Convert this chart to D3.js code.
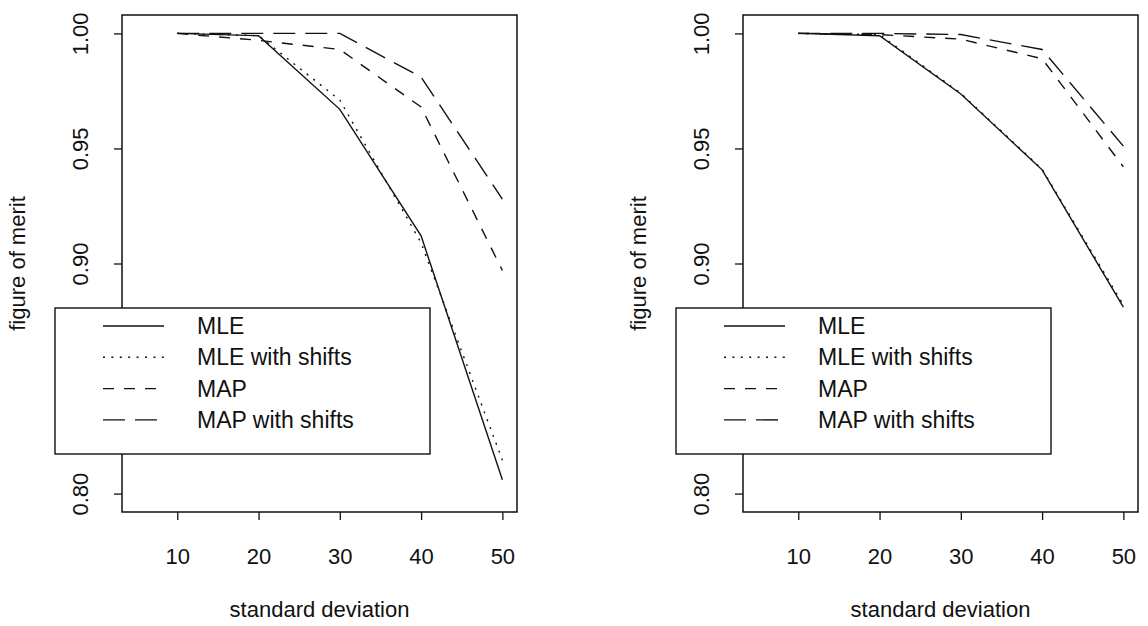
<!DOCTYPE html>
<html>
<head>
<meta charset="utf-8">
<script src="https://cdn.jsdelivr.net/npm/d3@7"></script>
<style>
  body { margin: 0; background: #fff; }
  svg text { font-family: "Liberation Sans", Arial, Helvetica, sans-serif; fill: #111; }
</style>
</head>
<body>
<div id="wrapper"></div>
<script>
// Dados
const sd = [10, 20, 30, 40, 50];
const seriesNames = ["MLE", "MLE with shifts", "MAP", "MAP with shifts"];
const xTicks = [10, 20, 30, 40, 50];
const yTicks = [0.80, 0.85, 0.90, 0.95, 1.00];

// painel da esquerda
const leftMLE       = [1.000, 0.999, 0.967, 0.912, 0.806];
const leftMLEShift  = [1.000, 0.999, 0.971, 0.909, 0.8145];
const leftMAP       = [1.000, 0.997, 0.993, 0.968, 0.897];
const leftMAPShift  = [1.000, 1.000, 1.000, 0.981, 0.928];

// painel da direita
const rightMLE      = [1.000, 0.999, 0.9737, 0.9407, 0.881];
const rightMLEShift = [1.000, 0.9995, 0.974, 0.941, 0.882];
const rightMAP      = [1.000, 0.9995, 0.9975, 0.989, 0.942];
const rightMAPShift = [1.000, 1.000, 0.9995, 0.993, 0.951];

// estilo de cada serie (tipo de linha do R)
const dashes = ["none", "2,6.4", "11,10", "22,10"];

function draw() {
  const dimensions = {
    width: 1148,
    height: 626,
    boxWidth: 395,
    top: 15,
    bottom: 512
  };
  const panelLeft = [122, 743];
  const panels = [
    [leftMLE, leftMLEShift, leftMAP, leftMAPShift],
    [rightMLE, rightMLEShift, rightMAP, rightMAPShift]
  ];

  const svg = d3.select("#wrapper")
    .append("svg")
      .attr("width", dimensions.width)
      .attr("height", dimensions.height);

  panels.forEach((series, p) => {
    const L = panelLeft[p];
    const xScale = d3.scaleLinear().domain([3.2, 51.8]).range([L, L + dimensions.boxWidth]);
    const yScale = d3.scaleLinear().domain([0.792, 1.008]).range([dimensions.bottom, dimensions.top]);

    const g = svg.append("g");

    // linhas de dados
    const line = d3.line()
      .x((d, i) => xScale(sd[i]))
      .y(d => yScale(d));
    series.forEach((values, s) => {
      g.append("path")
        .attr("d", line(values))
        .attr("fill", "none")
        .attr("stroke", "#111")
        .attr("stroke-width", 1.4)
        .attr("stroke-dasharray", dashes[s]);
    });

    // eixo x
    const xAxis = g.append("g")
      .attr("transform", "translate(0," + dimensions.bottom + ")")
      .call(d3.axisBottom(xScale).tickValues(xTicks).tickSize(8).tickFormat(d3.format("d")));
    xAxis.select(".domain").remove();
    xAxis.selectAll("line").attr("stroke", "#111").attr("stroke-width", 1.3);
    xAxis.selectAll("text")
      .attr("y", 52)
      .attr("dy", 0)
      .style("font-size", "22px")
      .attr("fill", "#111");

    // eixo y (rotulos girados como no R)
    const yAxis = g.append("g")
      .attr("transform", "translate(" + L + ",0)")
      .call(d3.axisLeft(yScale).tickValues(yTicks).tickSize(8).tickFormat(d3.format(".2f")));
    yAxis.select(".domain").remove();
    yAxis.selectAll("line").attr("stroke", "#111").attr("stroke-width", 1.3);
    yAxis.selectAll("text")
      .attr("x", 0)
      .attr("y", -34)
      .attr("dy", 0)
      .attr("transform", "rotate(-90)")
      .attr("text-anchor", "middle")
      .style("font-size", "22px")
      .attr("fill", "#111");

    // caixa do grafico
    g.append("rect")
      .attr("x", L)
      .attr("y", dimensions.top)
      .attr("width", dimensions.boxWidth)
      .attr("height", dimensions.bottom - dimensions.top)
      .attr("fill", "none")
      .attr("stroke", "#111")
      .attr("stroke-width", 1.5);

    // titulos dos eixos
    g.append("text")
      .attr("x", L + dimensions.boxWidth / 2)
      .attr("y", 617)
      .attr("text-anchor", "middle")
      .style("font-size", "22px")
      .text("standard deviation");
    g.append("text")
      .attr("transform", "translate(" + (L - 97) + "," + ((dimensions.top + dimensions.bottom) / 2) + ") rotate(-90)")
      .attr("text-anchor", "middle")
      .style("font-size", "22px")
      .text("figure of merit");

    // legenda por cima de tudo
    const legend = g.append("g");
    legend.append("rect")
      .attr("x", L - 67)
      .attr("y", 308)
      .attr("width", 375)
      .attr("height", 146)
      .attr("fill", "#fff")
      .attr("stroke", "#111")
      .attr("stroke-width", 1.4);
    seriesNames.forEach((name, s) => {
      const ly = 326 + s * 31.3;
      legend.append("line")
        .attr("x1", L - 19)
        .attr("x2", L + 42)
        .attr("y1", ly)
        .attr("y2", ly)
        .attr("stroke", "#111")
        .attr("stroke-width", 1.4)
        .attr("stroke-dasharray", dashes[s]);
      legend.append("text")
        .attr("x", L + 75)
        .attr("y", ly + 8)
        .style("font-size", "23px")
        .text(name);
    });
  });
}
draw();
</script>
</body>
</html>
